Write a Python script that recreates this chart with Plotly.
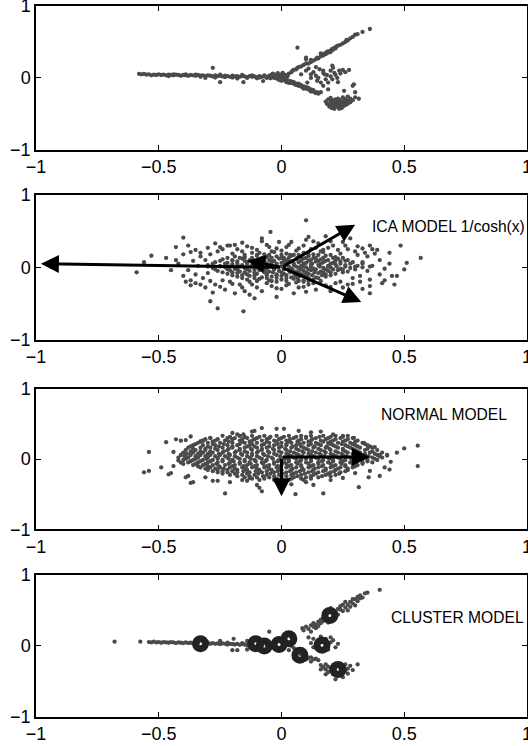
import plotly.graph_objects as go

# ---------------- data ----------------
X_TICKS = [-1, -0.5, 0, 0.5, 1]
Y_TICKS = [-1, 0, 1]

# Panel 1: raw data
P1_PTS = [
    # left arm
    (-0.58,0.055),(-0.57,0.05),(-0.56,0.055),(-0.55,0.045),(-0.54,0.05),(-0.53,0.035),(-0.52,0.045),(-0.51,0.04),
    (-0.5,0.05),(-0.49,0.04),(-0.48,0.045),(-0.47,0.035),(-0.46,0.045),(-0.46,0.025),(-0.45,0.04),(-0.44,0.035),
    (-0.44,0.05),(-0.43,0.045),(-0.42,0.04),(-0.41,0.03),(-0.4,0.04),(-0.39,0.035),(-0.39,0.05),(-0.38,0.03),
    (-0.37,0.04),(-0.36,0.035),(-0.35,0.03),(-0.35,0.045),(-0.34,0.04),(-0.33,0.03),(-0.33,0.015),(-0.32,0.035),
    (-0.31,0.025),(-0.31,0.0),(-0.3,0.035),(-0.29,0.03),(-0.28,0.02),(-0.27,0.035),(-0.27,0.005),(-0.26,0.025),
    (-0.25,0.03),(-0.25,0.045),(-0.25,-0.06),(-0.24,0.02),(-0.23,0.03),(-0.23,0.01),(-0.22,0.025),(-0.21,0.015),
    (-0.2,0.03),(-0.2,0.005),(-0.19,0.02),(-0.18,0.025),(-0.18,-0.01),(-0.17,0.015),(-0.16,0.025),(-0.16,0.04),
    (-0.155,-0.06),(-0.15,0.02),(-0.14,0.01),(-0.14,0.0),(-0.13,0.025),(-0.12,0.015),(-0.12,0.035),(-0.11,0.02),
    (-0.1,0.01),(-0.1,-0.005),(-0.09,0.025),(-0.09,0.005),(-0.08,0.015),(-0.075,-0.045),(-0.07,0.02),(-0.07,0.035),
    (-0.06,0.01),(-0.06,0.0),(-0.05,0.025),(-0.28,0.14),
    # blob at the origin
    (-0.05,0.03),(-0.04,0.045),(-0.04,0.01),(-0.03,0.03),(-0.03,0.0),(-0.02,0.05),(-0.02,0.02),(-0.02,-0.01),
    (-0.01,0.04),(-0.01,0.01),(0.0,0.03),(0.0,0.0),(0.0,0.05),(0.01,0.02),(0.01,-0.01),(0.02,0.01),
    (-0.035,0.06),(-0.015,0.065),(-0.005,-0.02),(0.015,0.04),(-0.045,-0.005),(0.005,0.07),(-0.025,0.035),(0.025,0.025),
    # upper arm
    (0.03,0.06),(0.04,0.08),(0.045,0.1),(0.05,0.11),(0.06,0.12),(0.065,0.14),(0.07,0.15),(0.08,0.16),
    (0.09,0.18),(0.1,0.2),(0.11,0.2),(0.12,0.22),(0.12,0.25),(0.13,0.24),(0.14,0.26),(0.145,0.28),(0.15,0.27),
    (0.16,0.3),(0.16,0.34),(0.165,0.32),(0.17,0.31),(0.175,0.34),(0.18,0.33),(0.185,0.36),(0.19,0.37),
    (0.19,0.35),(0.2,0.38),(0.2,0.36),(0.205,0.4),(0.21,0.39),(0.215,0.42),(0.22,0.41),(0.225,0.44),
    (0.23,0.45),(0.24,0.46),(0.25,0.48),(0.26,0.5),(0.265,0.53),(0.27,0.52),(0.28,0.55),(0.29,0.57),
    (0.3,0.6),(0.31,0.61),(0.33,0.64),(0.36,0.68),(0.1,0.28),(0.065,0.42),
    # lower arm
    (0.005,-0.01),(0.01,-0.03),(0.015,-0.02),(0.02,-0.04),(0.025,-0.05),(0.03,-0.04),(0.035,-0.06),(0.04,-0.07),
    (0.045,-0.06),(0.05,-0.08),(0.055,-0.09),(0.06,-0.08),(0.065,-0.1),(0.07,-0.11),(0.075,-0.1),(0.08,-0.12),
    (0.085,-0.13),(0.09,-0.12),(0.095,-0.14),(0.1,-0.15),(0.105,-0.14),(0.11,-0.16),(0.115,-0.17),(0.12,-0.16),
    (0.125,-0.18),(0.13,-0.19),(0.135,-0.2),(0.14,-0.21),(0.145,-0.2),(0.15,-0.22),(0.02,-0.06),(0.04,-0.05),
    (0.06,-0.1),(0.08,-0.1),(0.1,-0.13),(0.12,-0.19),(0.03,-0.07),(0.07,-0.08),(0.09,-0.15),(0.11,-0.14),
    (0.13,-0.17),(0.05,-0.06),(-0.01,-0.03),(0.0,-0.04),
    # scattered points between the arms
    (0.1,0.1),(0.12,0.05),(0.14,0.03),(0.15,0.0),(0.17,0.1),(0.175,0.05),(0.19,-0.065),(0.207,-0.02),
    (0.21,0.14),(0.215,0.07),(0.235,0.1),(0.25,0.11),(0.275,0.11),(0.227,0.0),(0.16,-0.2),(0.17,-0.11),
    (0.29,-0.11),(0.3,-0.2),(0.315,-0.29),(0.207,0.17),(0.26,0.08),(0.17,0.07),(0.145,-0.04),(0.16,-0.065),
    (0.19,-0.16),(0.255,-0.18),(0.295,-0.09),(0.105,-0.065),(0.1,0.26),(0.13,0.08),(0.155,0.12),(0.185,0.04),
    (0.2,0.02),(0.22,0.04),(0.24,0.06),(0.2,0.1),(0.12,0.0),(0.18,-0.02),(0.23,-0.06),(0.14,0.15),(0.08,0.05),(0.11,0.13),
    # lower right cluster
    (0.19,-0.3),(0.2,-0.32),(0.2,-0.36),(0.21,-0.34),(0.21,-0.38),(0.22,-0.3),(0.22,-0.36),(0.22,-0.4),
    (0.23,-0.33),(0.23,-0.37),(0.23,-0.41),(0.24,-0.35),(0.24,-0.39),(0.24,-0.31),(0.25,-0.36),(0.25,-0.33),
    (0.25,-0.4),(0.26,-0.34),(0.26,-0.3),(0.27,-0.36),(0.27,-0.32),(0.28,-0.34),(0.28,-0.29),(0.18,-0.33),
    (0.185,-0.36),(0.195,-0.4),(0.205,-0.42),(0.215,-0.43),(0.235,-0.43),(0.245,-0.42),(0.21,-0.31),(0.23,-0.29),
    (0.25,-0.27),(0.26,-0.38),(0.29,-0.31),(0.27,-0.26),(0.3,-0.27),(0.2,-0.28),(0.215,-0.35),(0.225,-0.39),
    (0.235,-0.35),(0.245,-0.37),(0.19,-0.37),(0.22,-0.33),
]

# Panel 2: ICA model (whitened data)
P2_PTS = [
    (-0.12,0.2),(-0.07,0.18),(-0.03,0.21),(0.02,0.19),(0.05,0.17),(0.09,0.2),(0.13,0.18),(0.17,0.21),
    (-0.19,0.15),(-0.15,0.14),(-0.1,0.16),(-0.06,0.14),(-0.02,0.15),(0.01,0.13),(0.04,0.16),(0.08,0.14),
    (0.11,0.15),(0.14,0.13),(0.18,0.16),(0.22,0.14),
    (-0.24,0.11),(-0.2,0.1),(-0.16,0.12),(-0.13,0.1),(-0.09,0.11),(-0.05,0.1),(-0.01,0.12),(0.02,0.1),
    (0.06,0.11),(0.09,0.12),(0.12,0.1),(0.16,0.11),(0.19,0.1),(0.23,0.12),(0.27,0.1),
    (-0.27,0.07),(-0.22,0.06),(-0.18,0.08),(-0.14,0.07),(-0.11,0.06),(-0.07,0.08),(-0.04,0.07),(0.0,0.06),
    (0.03,0.08),(0.07,0.07),(0.1,0.06),(0.14,0.08),(0.17,0.07),(0.21,0.06),(0.24,0.08),(0.29,0.07),
    (-0.3,0.03),(-0.25,0.02),(-0.2,0.04),(-0.16,0.03),(-0.12,0.02),(-0.08,0.04),(-0.05,0.03),(-0.02,0.02),
    (0.02,0.04),(0.05,0.03),(0.08,0.02),(0.12,0.04),(0.15,0.03),(0.19,0.02),(0.22,0.04),(0.26,0.03),(0.31,0.02),
    (-0.28,-0.01),(-0.23,0.0),(-0.19,-0.02),(-0.15,-0.01),(-0.1,0.0),(-0.06,-0.02),(-0.03,-0.01),(0.01,0.0),
    (0.04,-0.02),(0.07,-0.01),(0.1,0.0),(0.13,-0.02),(0.17,-0.01),(0.2,0.0),(0.24,-0.02),(0.28,-0.01),(0.33,0.0),
    (-0.26,-0.05),(-0.21,-0.04),(-0.17,-0.06),(-0.13,-0.05),(-0.09,-0.04),(-0.05,-0.06),(-0.01,-0.05),(0.03,-0.04),
    (0.06,-0.06),(0.09,-0.05),(0.12,-0.04),(0.16,-0.06),(0.19,-0.05),(0.23,-0.04),(0.27,-0.06),
    (-0.22,-0.09),(-0.18,-0.08),(-0.14,-0.1),(-0.1,-0.09),(-0.06,-0.08),(-0.02,-0.1),(0.01,-0.09),(0.05,-0.08),
    (0.08,-0.1),(0.11,-0.09),(0.15,-0.08),(0.18,-0.1),(0.22,-0.09),
    (-0.18,-0.13),(-0.13,-0.12),(-0.08,-0.14),(-0.04,-0.13),(0.0,-0.12),(0.04,-0.14),(0.07,-0.13),(0.1,-0.12),
    (0.14,-0.14),(0.18,-0.13),
    (-0.14,-0.17),(-0.09,-0.16),(-0.05,-0.18),(0.0,-0.17),(0.05,-0.16),(0.09,-0.18),(0.13,-0.17),
    # middle ring
    (-0.35,0.24),(-0.3,0.27),(-0.26,0.22),(-0.22,0.3),(-0.18,0.25),(-0.14,0.29),(-0.1,0.24),(-0.06,0.31),
    (-0.02,0.26),(0.02,0.28),(0.06,0.23),(0.09,0.3),(0.12,0.25),(0.15,0.33),(0.19,0.27),(0.23,0.24),
    (0.26,0.3),(0.3,0.22),(0.33,0.26),(-0.08,0.36),(0.04,0.35),(0.2,0.36),(-0.27,0.33),(0.16,0.22),
    (-0.04,0.22),(0.1,0.38),(-0.16,0.34),
    (-0.38,0.3),(-0.33,0.2),(-0.29,0.18),(-0.24,0.25),(-0.2,0.19),(-0.16,0.22),(-0.12,0.27),(-0.09,0.2),
    (-0.05,0.28),(0.0,0.23),(0.03,0.31),(0.07,0.26),(0.11,0.21),(0.14,0.27),(0.17,0.24),(0.21,0.3),
    (0.24,0.19),(0.27,0.25),(0.31,0.29),(0.34,0.2),(0.37,0.25),(-0.01,0.35),(0.13,0.36),(-0.19,0.31),
    (-0.35,-0.22),(-0.31,-0.28),(-0.27,-0.24),(-0.23,-0.31),(-0.2,-0.23),(-0.16,-0.28),(-0.12,-0.24),(-0.08,-0.33),
    (-0.04,-0.26),(0.0,-0.3),(0.03,-0.23),(0.07,-0.28),(0.11,-0.24),(0.14,-0.31),(0.18,-0.25),(0.22,-0.22),
    (0.25,-0.28),(0.29,-0.23),(-0.19,-0.36),(0.05,-0.36),(-0.13,-0.38),(0.2,-0.33),(-0.02,-0.2),(0.09,-0.2),(-0.24,-0.18),
    (-0.37,-0.18),(-0.33,-0.24),(-0.29,-0.19),(-0.25,-0.27),(-0.21,-0.2),(-0.17,-0.24),(-0.13,-0.2),(-0.1,-0.28),
    (-0.06,-0.22),(-0.02,-0.29),(0.02,-0.25),(0.06,-0.21),(0.09,-0.27),(0.13,-0.22),(0.16,-0.19),(0.2,-0.27),
    (0.24,-0.2),(0.27,-0.24),(0.32,-0.2),(-0.15,-0.33),(0.1,-0.34),(-0.28,-0.35),(0.36,-0.26),
    (-0.33,0.15),(-0.36,0.09),(-0.34,0.02),(-0.38,-0.04),(-0.35,-0.1),(-0.32,-0.15),(-0.4,0.18),(-0.42,0.05),
    (-0.4,-0.12),(-0.45,-0.04),(-0.43,0.1),(-0.37,0.21),(-0.31,0.1),(-0.3,-0.08),(-0.47,0.13),(-0.39,-0.2),
    (0.35,0.15),(0.33,0.07),(0.37,0.02),(0.35,-0.05),(0.32,-0.12),(0.36,-0.17),(0.4,0.1),(0.42,-0.02),
    (0.4,-0.1),(0.44,0.05),(0.38,0.19),(0.31,0.17),(0.29,-0.15),(0.45,-0.12),(0.41,-0.22),
    # sparse outer points
    (-0.59,-0.07),(-0.56,0.07),(-0.53,0.16),(-0.43,0.28),(-0.4,0.41),(-0.25,0.28),(-0.045,0.49),(0.1,0.65),
    (0.11,0.42),(0.18,0.43),(0.25,0.35),(0.39,0.24),(0.485,0.3),(0.44,0.2),(0.51,0.06),(0.5,-0.03),
    (0.46,-0.24),(0.42,-0.18),(0.36,-0.36),(0.33,-0.3),(-0.29,-0.47),(-0.26,-0.57),(-0.155,-0.61),(-0.11,-0.43),
    (-0.02,-0.41),(-0.37,-0.25),(0.567,0.13),(0.28,0.4),(0.47,-0.12),(0.36,0.3),(-0.21,0.3),(-0.08,0.4),
]
# Panel 2: extra points of the dense centre, by rows (y, xs)
P2_CORE_ROWS = [
    (0.17,  [-0.15,-0.1,-0.05,0.0,0.035,0.07,0.11,0.15,0.2]),
    (0.13,  [-0.22,-0.17,-0.12,-0.08,-0.04,0.0,0.03,0.065,0.1,0.13,0.17,0.21,0.25]),
    (0.09,  [-0.25,-0.2,-0.15,-0.11,-0.07,-0.03,0.01,0.045,0.08,0.11,0.15,0.18,0.22,0.26]),
    (0.05,  [-0.28,-0.23,-0.18,-0.14,-0.095,-0.06,-0.02,0.015,0.05,0.09,0.125,0.16,0.2,0.24,0.28,0.33]),
    (0.01,  [-0.3,-0.25,-0.21,-0.17,-0.125,-0.08,-0.04,0.0,0.03,0.06,0.09,0.12,0.155,0.19,0.225,0.26,0.3,0.36]),
    (-0.03, [-0.27,-0.22,-0.18,-0.14,-0.11,-0.07,-0.03,0.01,0.045,0.08,0.11,0.14,0.18,0.21,0.25,0.3]),
    (-0.07, [-0.24,-0.2,-0.15,-0.11,-0.07,-0.035,0.0,0.035,0.07,0.1,0.135,0.17,0.2,0.25]),
    (-0.11, [-0.2,-0.16,-0.11,-0.06,-0.02,0.02,0.055,0.09,0.125,0.165,0.2]),
    (-0.15, [-0.16,-0.11,-0.06,-0.02,0.02,0.065,0.11,0.15]),
    (-0.19, [-0.1,-0.04,0.02,0.07,0.11]),
]

# Panel 3: normal model, dense core by rows (y, xs)
P3_CORE_ROWS = [
    (0.33,  [-0.24,-0.17,-0.12,-0.07,-0.02,0.03,0.08,0.12,0.17,0.22,0.27]),
    (0.315, [-0.21,-0.15,-0.09,-0.045,0.01,0.06,0.1,0.155,0.2,0.25]),
    (0.298, [-0.29,-0.22,-0.19,-0.14,-0.1,-0.05,0.0,0.05,0.1,0.14,0.19,0.24,0.29]),
    (0.281, [-0.31,-0.26,-0.2,-0.16,-0.11,-0.06,-0.01,0.035,0.08,0.125,0.18,0.22,0.27]),
    (0.263, [-0.32,-0.27,-0.23,-0.17,-0.12,-0.08,-0.03,0.02,0.07,0.12,0.16,0.21,0.26,0.31]),
    (0.247, [-0.33,-0.28,-0.215,-0.16,-0.13,-0.06,-0.02,0.03,0.065,0.11,0.17,0.2,0.25,0.3]),
    (0.231, [-0.34,-0.3,-0.25,-0.2,-0.15,-0.1,-0.05,0.0,0.04,0.09,0.14,0.19,0.23,0.28,0.33]),
    (0.213, [-0.35,-0.28,-0.235,-0.17,-0.12,-0.07,-0.015,0.02,0.075,0.12,0.15,0.2,0.245,0.29,0.34]),
    (0.196, [-0.36,-0.32,-0.27,-0.22,-0.18,-0.13,-0.08,-0.03,0.02,0.06,0.11,0.16,0.21,0.26,0.3,0.35]),
    (0.179, [-0.37,-0.3,-0.255,-0.2,-0.14,-0.11,-0.05,0.0,0.045,0.08,0.135,0.185,0.22,0.27,0.31,0.36]),
    (0.162, [-0.38,-0.33,-0.29,-0.24,-0.2,-0.15,-0.1,-0.06,-0.01,0.04,0.09,0.13,0.18,0.23,0.28,0.32,0.37]),
    (0.145, [-0.36,-0.31,-0.27,-0.215,-0.17,-0.125,-0.08,-0.035,0.015,0.06,0.1,0.15,0.195,0.25,0.29,0.35]),
    (0.127, [-0.39,-0.35,-0.31,-0.26,-0.22,-0.17,-0.12,-0.08,-0.03,0.02,0.07,0.11,0.16,0.2,0.25,0.3,0.34,0.39]),
    (0.109, [-0.37,-0.33,-0.29,-0.235,-0.185,-0.15,-0.095,-0.055,-0.01,0.035,0.085,0.125,0.175,0.22,0.26,0.31,0.37]),
    (0.091, [-0.4,-0.36,-0.32,-0.28,-0.24,-0.19,-0.14,-0.1,-0.05,0.0,0.05,0.09,0.14,0.18,0.23,0.27,0.32,0.36,0.41]),
    (0.074, [-0.385,-0.34,-0.3,-0.255,-0.215,-0.165,-0.12,-0.075,-0.03,0.02,0.06,0.11,0.155,0.2,0.245,0.29,0.34,0.38]),
    (0.057, [-0.41,-0.37,-0.33,-0.29,-0.25,-0.21,-0.16,-0.12,-0.07,-0.02,0.03,0.07,0.12,0.16,0.21,0.25,0.3,0.34,0.39,0.43]),
    (0.039, [-0.395,-0.35,-0.31,-0.27,-0.23,-0.19,-0.14,-0.1,-0.055,-0.005,0.04,0.085,0.13,0.175,0.22,0.265,0.31,0.355,0.4]),
    (0.021, [-0.42,-0.38,-0.34,-0.3,-0.26,-0.22,-0.18,-0.13,-0.09,-0.04,0.01,0.05,0.1,0.14,0.19,0.23,0.28,0.32,0.37,0.41]),
    (0.003, [-0.39,-0.35,-0.305,-0.26,-0.215,-0.17,-0.125,-0.08,-0.035,0.015,0.06,0.1,0.15,0.195,0.24,0.285,0.33,0.38]),
    (-0.014,[-0.4,-0.36,-0.32,-0.28,-0.24,-0.2,-0.15,-0.11,-0.06,-0.01,0.03,0.08,0.12,0.17,0.21,0.26,0.3,0.35,0.39]),
    (-0.032,[-0.37,-0.33,-0.29,-0.24,-0.195,-0.15,-0.105,-0.065,-0.015,0.03,0.075,0.12,0.165,0.21,0.25,0.3,0.35]),
    (-0.049,[-0.38,-0.34,-0.3,-0.26,-0.21,-0.17,-0.13,-0.08,-0.03,0.01,0.06,0.1,0.15,0.19,0.24,0.28,0.33,0.37]),
    (-0.068,[-0.35,-0.31,-0.265,-0.215,-0.17,-0.125,-0.075,-0.03,0.02,0.065,0.11,0.15,0.2,0.245,0.29,0.33]),
    (-0.086,[-0.36,-0.32,-0.28,-0.23,-0.19,-0.14,-0.1,-0.05,0.0,0.04,0.08,0.13,0.17,0.22,0.26,0.31]),
    (-0.103,[-0.34,-0.3,-0.255,-0.2,-0.155,-0.11,-0.06,-0.015,0.03,0.08,0.12,0.165,0.21,0.26,0.3]),
    (-0.12, [-0.33,-0.29,-0.25,-0.21,-0.16,-0.12,-0.07,-0.02,0.02,0.06,0.11,0.15,0.2,0.24,0.29]),
    (-0.138,[-0.31,-0.27,-0.235,-0.19,-0.145,-0.1,-0.05,-0.01,0.045,0.085,0.135,0.18,0.23,0.27]),
    (-0.156,[-0.3,-0.26,-0.22,-0.18,-0.14,-0.09,-0.04,0.0,0.04,0.09,0.13,0.18,0.22,0.27]),
    (-0.173,[-0.28,-0.24,-0.2,-0.155,-0.105,-0.06,-0.015,0.035,0.075,0.125,0.17,0.215,0.26]),
    (-0.19, [-0.26,-0.22,-0.18,-0.13,-0.08,-0.03,0.02,0.06,0.11,0.15,0.2,0.24]),
    (-0.208,[-0.24,-0.19,-0.14,-0.095,-0.045,0.005,0.05,0.095,0.14,0.19,0.235]),
    (-0.226,[-0.21,-0.16,-0.11,-0.06,-0.01,0.04,0.08,0.13,0.18,0.22]),
    (-0.244,[-0.18,-0.13,-0.075,-0.03,0.02,0.065,0.12,0.165,0.2]),
    (-0.262,[-0.15,-0.1,-0.05,0.0,0.05,0.1,0.15]),
    (-0.28, [-0.12,-0.07,-0.02,0.04,0.08,0.12]),
    (-0.297,[-0.09,-0.03,0.03,0.09]),
]
P3_OUTER = [
    (-0.56,-0.19),(-0.54,-0.17),(-0.54,0.1),(-0.49,-0.12),(-0.46,-0.22),(-0.45,-0.2),(-0.47,0.24),(-0.43,0.28),
    (-0.41,0.26),(-0.39,0.27),(-0.37,0.32),(-0.42,-0.02),(-0.41,-0.05),(-0.4,-0.07),(-0.39,-0.26),(-0.38,-0.24),
    (-0.37,-0.34),(-0.36,-0.33),(-0.33,0.25),(-0.32,0.26),(-0.29,0.3),(-0.31,-0.26),(-0.28,-0.31),(-0.26,-0.31),
    (-0.23,-0.49),(-0.21,-0.33),(-0.16,-0.3),(-0.14,-0.31),(-0.13,-0.27),(-0.1,-0.37),(-0.09,-0.41),(-0.08,-0.46),
    (-0.08,0.44),(-0.12,0.39),(-0.11,0.4),(-0.2,0.37),(-0.18,0.35),(-0.17,0.33),(-0.02,0.43),(0.01,0.43),
    (-0.155,0.35),(0.21,0.35),(0.25,0.33),(0.057,-0.5),(0.17,-0.49),(0.315,-0.4),(0.355,-0.26),(0.4,-0.24),
    (0.445,-0.04),(0.4,0.06),(0.336,0.23),(0.295,0.3),(0.5,0.15),(0.555,0.19),(0.555,-0.1),(0.43,0.05),
    (0.42,-0.12),(0.38,0.17),(0.36,-0.17),(0.1,-0.33),(0.04,-0.36),(0.2,-0.3),(0.25,-0.27),(0.3,-0.2),
    (0.12,0.38),(0.07,0.4),(0.16,0.39),(-0.44,0.1),(-0.44,-0.1),(0.47,0.09),(0.44,-0.15),(-0.02,-0.33),(0.13,-0.37),
]

# Panel 4: cluster model, data points
P4_PTS = [
    (-0.68,0.06),(-0.575,0.06),(-0.54,0.055),(-0.53,0.05),(-0.52,0.06),(-0.51,0.05),(-0.5,0.055),(-0.49,0.045),
    (-0.48,0.055),(-0.47,0.05),(-0.46,0.045),(-0.45,0.055),(-0.44,0.05),(-0.43,0.04),(-0.42,0.05),(-0.41,0.045),
    (-0.4,0.04),(-0.39,0.05),(-0.38,0.04),(-0.37,0.045),(-0.36,0.035),(-0.35,0.045),(-0.34,0.04),(-0.3,0.035),
    (-0.29,0.03),(-0.28,0.04),(-0.27,0.03),(-0.26,0.035),(-0.25,0.025),(-0.24,0.035),(-0.23,0.03),(-0.22,0.02),
    (-0.21,0.03),(-0.2,0.025),(-0.19,0.02),(-0.18,0.03),(-0.17,0.015),(-0.16,0.025),(-0.15,0.02),(-0.14,0.01),
    (-0.13,0.02),(-0.12,0.015),(-0.06,0.01),(-0.05,0.02),(-0.04,0.0),(-0.03,0.015),(-0.25,0.07),(-0.195,0.1),
    (-0.18,-0.06),(-0.2,-0.06),(-0.14,0.07),(-0.14,-0.05),(-0.05,0.2),(-0.3,0.05),(-0.22,0.045),(-0.16,0.04),(-0.11,-0.01),
    (0.02,0.02),(0.04,0.0),(0.05,-0.03),(0.03,-0.06),(0.06,-0.08),(0.05,0.05),(0.04,0.12),
    (0.085,0.25),(0.09,0.22),(0.1,0.27),(0.11,0.24),(0.12,0.29),(0.13,0.27),(0.13,0.32),(0.14,0.3),
    (0.15,0.34),(0.15,0.28),(0.16,0.37),(0.16,0.32),(0.17,0.35),(0.17,0.4),(0.18,0.38),(0.19,0.47),
    (0.21,0.4),(0.22,0.47),(0.23,0.52),(0.23,0.44),(0.24,0.51),(0.24,0.56),(0.25,0.49),(0.25,0.58),
    (0.26,0.54),(0.26,0.62),(0.27,0.58),(0.27,0.5),(0.28,0.62),(0.28,0.55),(0.29,0.66),(0.29,0.6),
    (0.3,0.66),(0.3,0.57),(0.31,0.69),(0.31,0.63),(0.32,0.71),(0.32,0.67),(0.33,0.68),(0.34,0.74),
    (0.35,0.75),(0.4,0.79),(0.2,0.53),(0.14,0.25),(0.12,0.2),(0.19,0.33),(0.21,0.36),
    (0.12,0.04),(0.13,0.1),(0.14,0.0),(0.145,0.05),(0.15,-0.04),(0.15,0.08),(0.16,0.13),(0.16,-0.06),
    (0.17,0.06),(0.175,-0.03),(0.18,0.1),(0.185,0.02),(0.19,-0.05),(0.2,0.05),(0.21,0.08),(0.22,-0.02),
    (0.23,0.03),(0.2,0.12),(0.13,-0.02),(0.11,0.12),
    (0.06,-0.1),(0.08,-0.12),(0.09,-0.15),(0.1,-0.13),(0.11,-0.17),(0.12,-0.16),(0.13,-0.19),(0.14,-0.18),
    (0.15,-0.2),(0.1,-0.19),(0.12,-0.22),
    (0.16,-0.27),(0.17,-0.3),(0.18,-0.26),(0.18,-0.33),(0.19,-0.29),(0.19,-0.37),(0.2,-0.31),(0.2,-0.35),
    (0.21,-0.27),(0.21,-0.4),(0.22,-0.3),(0.22,-0.36),(0.23,-0.42),(0.23,-0.28),(0.24,-0.33),(0.24,-0.38),
    (0.25,-0.3),(0.25,-0.44),(0.26,-0.35),(0.26,-0.26),(0.27,-0.32),(0.27,-0.39),(0.28,-0.28),(0.29,-0.34),
    (0.31,-0.26),(0.22,-0.47),(0.18,-0.4),(0.16,-0.33),
]
# cluster centres
P4_CENTERS = [(-0.33,0.03),(-0.105,0.03),(-0.07,0.0),(-0.01,0.02),(0.03,0.1),(0.075,-0.13),
              (0.165,0.01),(0.197,0.43),(0.23,-0.33)]

# arrows: (origin_x, origin_y, tip_x, tip_y)
ICA_ARROWS = [(0,0,-0.98,0.05),(0,0,-0.14,0.09),(0,0,0.3,0.59),(0,0,0.325,-0.48)]
NORMAL_ARROWS = [(0,0.03,0.36,0.03),(0,0.03,0,-0.53)]

LABELS = [(2, "ICA MODEL 1/cosh(x)", 0.36, 0.56),
          (3, "NORMAL MODEL", 0.396, 0.63),
          (4, "CLUSTER MODEL", 0.438, 0.40)]

# ---------------- figure ----------------
PT_COLOR = "#4a4a4a"
PT_SIZE = 4.3
FONT = "Liberation Sans, Arial, Helvetica, sans-serif"

p2_pts = P2_PTS + [(x, y) for y, xs in P2_CORE_ROWS for x in xs]
p3_pts = [(x, y) for y, xs in P3_CORE_ROWS for x in xs] + P3_OUTER
panels = [P1_PTS, p2_pts, p3_pts, P4_PTS]

fig = go.Figure()
for i, pts in enumerate(panels, start=1):
    sfx = "" if i == 1 else str(i)
    fig.add_trace(go.Scatter(
        x=[p[0] for p in pts], y=[p[1] for p in pts], mode="markers",
        marker=dict(color=PT_COLOR, size=PT_SIZE, line=dict(width=0)),
        xaxis="x" + sfx, yaxis="y" + sfx, showlegend=False, hoverinfo="skip"))

fig.add_trace(go.Scatter(
    x=[c[0] for c in P4_CENTERS], y=[c[1] for c in P4_CENTERS], mode="markers",
    marker=dict(symbol="circle-open", size=10, color="#222222", line=dict(width=7, color="#222222")),
    xaxis="x4", yaxis="y4", showlegend=False, hoverinfo="skip"))

annotations = []
def add_arrows(arrows, k):
    for ox, oy, tx, ty in arrows:
        annotations.append(dict(
            x=tx, y=ty, ax=ox, ay=oy, xref=f"x{k}", yref=f"y{k}", axref=f"x{k}", ayref=f"y{k}",
            text="", showarrow=True, arrowhead=2, arrowsize=1.2, arrowwidth=3, arrowcolor="black",
            standoff=0, startstandoff=0))
add_arrows(ICA_ARROWS, 2)
add_arrows(NORMAL_ARROWS, 3)
for k, txt, x, y in LABELS:
    annotations.append(dict(x=x, y=y, xref=f"x{k}", yref=f"y{k}", text=txt, showarrow=False,
                            xanchor="left", yanchor="middle",
                            font=dict(family=FONT, size=15.6, color="black")))

domains = [(0.7978, 1.0), (0.5309, 0.7341), (0.2640, 0.4617), (0.0, 0.1999)]
axis_common = dict(range=[-1, 1], showgrid=False, zeroline=False, showline=True, linecolor="black",
                   linewidth=1.5, mirror="ticks", ticks="inside", ticklen=5, tickwidth=1,
                   tickcolor="black", automargin=False, ticklabeloverflow="allow",
                   tickfont=dict(family=FONT, size=18, color="black"))
layout = dict(width=528, height=746, margin=dict(l=36, r=1, t=6, b=29),
              plot_bgcolor="white", paper_bgcolor="white", annotations=annotations)
for i, dom in enumerate(domains, start=1):
    sfx = "" if i == 1 else str(i)
    layout["xaxis" + sfx] = dict(axis_common, domain=[0, 1], anchor="y" + sfx,
                                 tickvals=X_TICKS)
    layout["yaxis" + sfx] = dict(axis_common, domain=list(dom), anchor="x" + sfx,
                                 tickvals=Y_TICKS)
fig.update_layout(**layout)
fig.write_html("out.html")
